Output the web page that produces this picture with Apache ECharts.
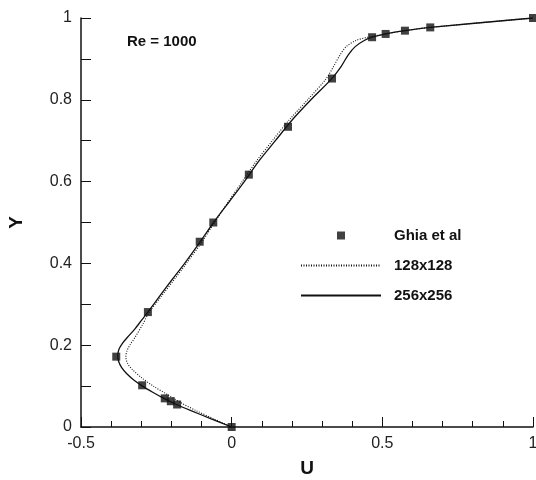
<!DOCTYPE html>
<html>
<head>
<meta charset="utf-8">
<script src="https://cdn.jsdelivr.net/npm/echarts@6/dist/echarts.min.js"></script>
<style>
  html, body { margin: 0; padding: 0; background: #fff; }
  #chart { width: 536px; height: 480px; }
</style>
</head>
<body>
<div id="chart"></div>
<script>
// Ghia et al reference points (U, Y)
const ghiaU = [1.0, 0.659, 0.575, 0.511, 0.466, 0.333, 0.187, 0.057, -0.061, -0.106, -0.278, -0.383, -0.297, -0.222, -0.202, -0.181, 0.0]
const ghiaY = [1.0, 0.977, 0.969, 0.961, 0.953, 0.852, 0.734, 0.617, 0.5, 0.453, 0.281, 0.172, 0.102, 0.070, 0.063, 0.055, 0.0]

// 128x128 profile (dotted)
const fineY128 = [0, 0.02, 0.04, 0.06, 0.08, 0.10, 0.12, 0.14, 0.155, 0.17, 0.185, 0.20, 0.22, 0.25, 0.28, 0.32, 0.36, 0.40, 0.45, 0.50, 0.55, 0.60, 0.65, 0.70, 0.75, 0.80, 0.85, 0.88, 0.91, 0.93, 0.945, 0.953, 0.961, 0.969, 0.977, 1.0]
const fineU128 = [0, -0.060, -0.118, -0.170, -0.215, -0.260, -0.298, -0.329, -0.345, -0.351, -0.348, -0.338, -0.320, -0.296, -0.274, -0.233, -0.191, -0.150, -0.101, -0.057, -0.012, 0.035, 0.082, 0.135, 0.190, 0.252, 0.312, 0.337, 0.360, 0.380, 0.412, 0.452, 0.511, 0.575, 0.659, 1.0]

// 256x256 profile (solid)
const fineY256 = [0, 0.02, 0.04, 0.055, 0.07, 0.085, 0.10, 0.115, 0.13, 0.145, 0.16, 0.175, 0.19, 0.205, 0.22, 0.24, 0.26, 0.28, 0.32, 0.36, 0.40, 0.45, 0.50, 0.55, 0.60, 0.65, 0.70, 0.75, 0.80, 0.85, 0.88, 0.91, 0.93, 0.945, 0.953, 0.961, 0.969, 0.977, 1.0]
const fineU256 = [0, -0.068, -0.135, -0.183, -0.225, -0.262, -0.296, -0.325, -0.348, -0.365, -0.375, -0.378, -0.374, -0.362, -0.345, -0.321, -0.300, -0.279, -0.239, -0.198, -0.156, -0.107, -0.060, -0.009, 0.042, 0.090, 0.145, 0.200, 0.263, 0.330, 0.362, 0.387, 0.410, 0.440, 0.466, 0.511, 0.575, 0.659, 1.0]

const pairs = (xs, ys) => xs.map((x, i) => [x, ys[i]])

const chart = echarts.init(document.getElementById('chart'))
const ink = '#111'
const font = 'Liberation Sans, Arial, sans-serif'
const noDot = {color: 'rgba(0,0,0,0)', borderWidth: 0}
// small square in the middle of an 80x8 legend slot
const squareIcon = 'path://M0,0L0,0M80,8L80,8M36,0L44,0L44,8L36,8Z'

chart.setOption({
    animation: false,
    title: {
        text: 'Re = 1000',
        left: 127, top: 34, padding: 0,
        textStyle: {fontFamily: font, fontSize: 15, fontWeight: 'bold', color: ink}
    },
    legend: {
        orient: 'vertical',
        left: 300, top: 228, padding: 0,
        itemWidth: 80, itemHeight: 8, itemGap: 15,
        textStyle: {fontFamily: font, fontSize: 15, fontWeight: 'bold', color: ink, padding: [0, 0, 0, 8]},
        data: [
            {name: 'Ghia et al', icon: squareIcon},
            {name: '128x128', itemStyle: noDot},
            {name: '256x256', itemStyle: noDot}
        ]
    },
    grid: {left: 81, right: 3, top: 18, bottom: 53, outerBoundsMode: 'none'},
    xAxis: {
        type: 'value', min: -0.5, max: 1, interval: 0.5,
        name: 'U', nameLocation: 'middle', nameGap: 32,
        nameTextStyle: {fontFamily: font, fontSize: 19, fontWeight: 'bold', color: ink},
        axisLine: {onZero: false, lineStyle: {color: ink, width: 1.5}},
        axisTick: {inside: true, length: 10, lineStyle: {color: ink}},
        minorTick: {show: true, splitNumber: 5, length: 6, lineStyle: {color: ink}},
        axisLabel: {fontFamily: font, fontSize: 16, color: '#222', margin: 9},
        splitLine: {show: false}
    },
    yAxis: {
        type: 'value', min: 0, max: 1, interval: 0.2,
        name: 'Y', nameLocation: 'middle', nameGap: 55,
        nameTextStyle: {fontFamily: font, fontSize: 19, fontWeight: 'bold', color: ink},
        axisLine: {show: true, onZero: false, lineStyle: {color: ink, width: 1.5}},
        axisTick: {show: true, inside: true, length: 10, lineStyle: {color: ink}},
        minorTick: {show: true, splitNumber: 2, length: 10, lineStyle: {color: ink}},
        axisLabel: {fontFamily: font, fontSize: 16, color: '#222', margin: 9},
        splitLine: {show: false}
    },
    series: [
        {
            name: 'Ghia et al', type: 'scatter', symbol: 'rect', symbolSize: 8, z: 5,
            itemStyle: {color: ink},
            data: pairs(ghiaU, ghiaY)
        },
        {
            name: '128x128', type: 'line', symbol: 'none', smooth: 0.3,
            lineStyle: {color: ink, width: 1.1, type: [1, 1.5]},
            itemStyle: {color: ink},
            data: pairs(fineU128, fineY128)
        },
        {
            name: '256x256', type: 'line', symbol: 'none', smooth: 0.3,
            lineStyle: {color: ink, width: 1.3},
            itemStyle: {color: ink},
            data: pairs(fineU256, fineY256)
        }
    ]
})
</script>
</body>
</html>
